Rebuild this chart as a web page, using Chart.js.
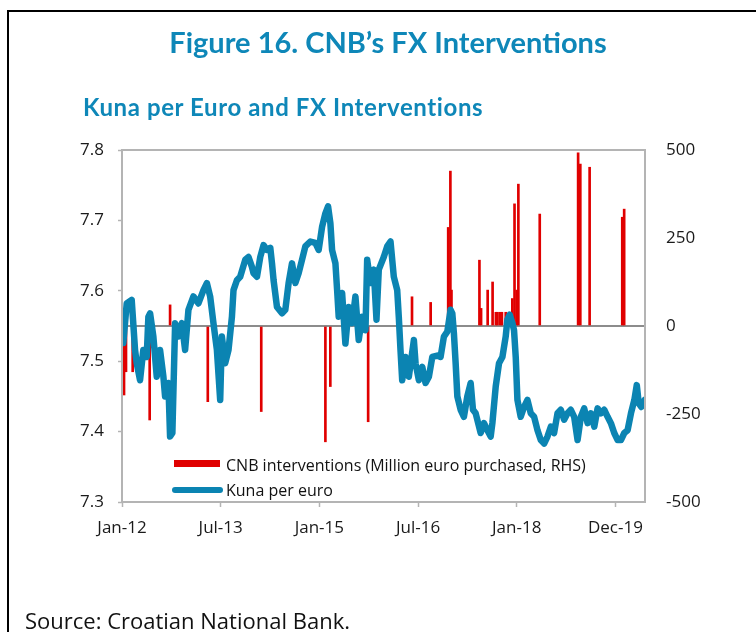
<!DOCTYPE html>
<html>
<head>
<meta charset="utf-8">
<script src="https://cdn.jsdelivr.net/npm/chart.js@4"></script>
<style>
  html, body { margin: 0; padding: 0; background: #fff; }
  body { width: 756px; height: 632px; position: relative; overflow: hidden; font-family: "Open Sans", sans-serif; }
  #grafico { position: absolute; left: 0; top: 0; z-index: 0; }
  #marco { position: absolute; left: 7px; top: 10px; width: 800px; height: 700px; border-left: 2px solid #000; border-top: 2px solid #000; }
  .txt { position: absolute; z-index: 1; white-space: nowrap; }
  #titulo { left: 10px; width: 756px; top: 25px; line-height: 34px; text-align: center; color: #0e87b8; font-family: Lato, sans-serif; font-weight: 700; font-size: 29px; }
  #subtitulo { left: 83px; top: 92px; line-height: 30px; color: #0e87b8; font-family: Lato, sans-serif; font-weight: 700; font-size: 24px; letter-spacing: 0.6px; }
  #fuente { left: 25px; top: 606px; line-height: 28px; font-size: 22px; color: #111; }
  .leyenda { font-size: 16px; line-height: 22px; color: #111; }
  .caja { position: absolute; z-index: 1; }
</style>
</head>
<body>
<div id="marco"></div>
<div id="titulo" class="txt">Figure 16. CNB’s FX Interventions</div>
<div id="subtitulo" class="txt">Kuna per Euro and FX Interventions</div>
<canvas id="grafico" width="756" height="632"></canvas>
<div class="caja" style="left:174px;top:460px;width:46px;height:7px;background:#e00000"></div>
<div class="txt leyenda" style="left:226px;top:454px">CNB interventions (Million euro purchased, RHS)</div>
<div class="caja" style="left:172px;top:487px;width:51px;height:6px;border-radius:3px;background:#0b84b2"></div>
<div class="txt leyenda" style="left:226px;top:479px">Kuna per euro</div>
<div id="fuente" class="txt">Source: Croatian National Bank.</div>

<script>
// --- Datos (meses desde ene-2012) ---
const etiquetasX = ["Jan-12", "Jul-13", "Jan-15", "Jul-16", "Jan-18", "Dec-19"];
const mesesTicksX = [0, 18, 36, 54, 72, 90];

const kunaMeses = [0.24,0.86,1.77,2.38,2.69,3.29,3.89,4.51,4.81,5.12,5.72,6.34,6.94,7.55,7.86,8.46,8.77,9.19,9.69,10.29,10.91,11.51,12.12,13.03,13.94,14.86,15.48,16.08,16.68,17.31,17.91,18.22,18.82,19.43,20.05,20.34,20.96,21.56,22.48,23.08,23.70,
  23.99,24.62,25.22,25.82,26.44,27.05,27.36,27.65,28.27,29.19,29.79,30.39,31.01,31.62,32.22,32.84,33.44,34.36,35.27,35.87,36.50,37.10,37.59,38.01,38.32,38.93,39.24,39.53,40.15,40.75,41.36,41.98,42.58,43.18,43.80,44.41,44.72,45.32,45.92,46.42,46.84,47.75,48.37,48.98,
  49.58,50.20,50.49,50.80,51.11,51.72,52.32,53.24,53.55,54.15,54.77,55.37,55.98,56.60,57.51,58.11,58.72,59.34,59.94,60.25,60.54,60.86,61.17,61.77,62.37,62.99,63.60,64.02,64.51,65.42,66.03,66.65,67.25,67.56,68.17,68.77,69.39,69.99,70.30,70.72,71.22,71.51,71.82,72.13,
  72.73,73.34,73.96,74.56,75.17,75.79,76.39,77.00,77.61,78.22,78.82,79.44,80.04,80.65,81.27,81.87,82.48,83.10,83.70,84.31,84.92,85.53,86.15,86.75,87.36,87.96,88.58,89.18,89.79,90.41,91.01,91.62,92.23,92.84,93.46,93.90,94.26,94.72,95.34];

const kunaTasa = [7.526,7.582,7.587,7.516,7.497,7.473,7.516,7.506,7.563,7.568,7.535,7.478,7.516,7.478,7.450,7.469,7.393,7.398,7.554,7.535,7.554,7.516,7.573,7.592,7.582,7.601,7.611,7.592,7.554,7.516,7.445,7.535,7.497,7.516,7.563,7.601,7.615,7.620,7.644,7.648,7.634,
  7.625,7.620,7.648,7.665,7.658,7.661,7.639,7.615,7.577,7.568,7.573,7.611,7.639,7.611,7.625,7.644,7.663,7.670,7.668,7.658,7.691,7.710,7.720,7.696,7.658,7.639,7.601,7.563,7.597,7.525,7.577,7.554,7.592,7.530,7.563,7.544,7.644,7.611,7.630,7.559,7.630,7.648,7.663,7.670,
  7.620,7.601,7.563,7.516,7.473,7.506,7.478,7.530,7.497,7.473,7.492,7.469,7.478,7.506,7.508,7.506,7.535,7.542,7.573,7.568,7.540,7.497,7.450,7.431,7.421,7.450,7.469,7.431,7.426,7.398,7.412,7.402,7.393,7.412,7.464,7.497,7.506,7.535,7.559,7.566,7.554,7.544,7.506,7.445,
  7.421,7.435,7.445,7.426,7.421,7.402,7.388,7.383,7.393,7.407,7.398,7.426,7.431,7.417,7.426,7.431,7.421,7.388,7.421,7.433,7.412,7.426,7.407,7.433,7.426,7.431,7.421,7.412,7.398,7.388,7.388,7.398,7.402,7.426,7.445,7.466,7.440,7.435,7.445];

const intervMeses = [0.37,0.73,1.95,5.05,8.77,15.65,25.4,37.1,38.0,44.9,52.9,56.3,59.5,59.9,60.1,65.2,65.5,66.7,67.6,68.2,68.5,69.0,69.3,70.0,71.2,71.6,72.0,72.3,76.2,83.2,83.6,85.3,91.25,91.6];
const intervMonto = [-196,-130,-130,-267,60,-215,-243,-329,-172,-272,83,67,280,440,102,187,50,102,125,39,39,39,39,39,78,347,102,403,318,492,460,451,309,332];

// --- Borde del area del grafico ---
const bordePlot = {
  id: "bordePlot",
  afterDatasetsDraw(chart) {
    const a = chart.chartArea;
    const ctx = chart.ctx;
    ctx.save();
    ctx.strokeStyle = "#b4b4b4";
    ctx.lineWidth = 2;
    ctx.strokeRect(a.left, a.top, a.right - a.left, a.bottom - a.top);
    ctx.restore();
  }
};

const fuenteEjes = { family: "'Open Sans', sans-serif", size: 17 };

new Chart(document.getElementById("grafico").getContext("2d"), {
  type: "line",
  data: {
    datasets: [
      {
        type: "line",
        label: "Kuna per euro",
        data: kunaMeses.map((m, i) => ({ x: m, y: kunaTasa[i] })),
        yAxisID: "y",
        borderColor: "#0b84b2",
        borderWidth: 6.5,
        borderJoinStyle: "round",
        borderCapStyle: "round",
        pointRadius: 0,
        tension: 0,
        order: 1
      },
      {
        type: "bar",
        label: "CNB interventions (Million euro purchased, RHS)",
        data: intervMeses.map((m, i) => ({ x: m, y: intervMonto[i] })),
        yAxisID: "y1",
        backgroundColor: "#e00000",
        barThickness: 2,
        order: 2
      }
    ]
  },
  options: {
    responsive: false,
    animation: false,
    layout: { padding: { top: 150, bottom: 80, left: 0, right: 0 } },
    plugins: { legend: { display: false }, tooltip: { enabled: false } },
    scales: {
      x: {
        type: "linear",
        min: 0,
        max: 95.4,
        offset: false,
        afterBuildTicks: s => { s.ticks = mesesTicksX.map(v => ({ value: v })); },
        afterFit: s => { s.height = 50; },
        ticks: {
          callback: (v, i) => etiquetasX[i],
          autoSkip: false,
          maxRotation: 0,
          padding: 11,
          color: "#1a1a1a",
          font: fuenteEjes
        },
        grid: { display: true, drawOnChartArea: false, drawTicks: true, tickLength: 5, tickColor: "#b4b4b4", tickWidth: 1.5, offset: false },
        border: { display: false }
      },
      y: {
        position: "left",
        min: 7.3,
        max: 7.8,
        afterFit: s => { s.width = 122; },
        ticks: {
          stepSize: 0.1,
          callback: v => Number(v).toFixed(1),
          padding: 14,
          color: "#1a1a1a",
          font: fuenteEjes
        },
        grid: { display: true, drawOnChartArea: false, drawTicks: true, tickLength: 4, tickColor: "#b4b4b4", tickWidth: 1.5 },
        border: { display: false }
      },
      y1: {
        position: "right",
        min: -500,
        max: 500,
        afterFit: s => { s.width = 111; },
        ticks: {
          stepSize: 250,
          padding: 21,
          color: "#1a1a1a",
          font: fuenteEjes
        },
        grid: {
          display: true,
          drawOnChartArea: true,
          drawTicks: false,
          lineWidth: 2,
          color: c => (c.tick && c.tick.value === 0 ? "#8c8c8c" : "rgba(0,0,0,0)")
        },
        border: { display: false }
      }
    }
  },
  plugins: [bordePlot]
});
</script>
</body>
</html>
